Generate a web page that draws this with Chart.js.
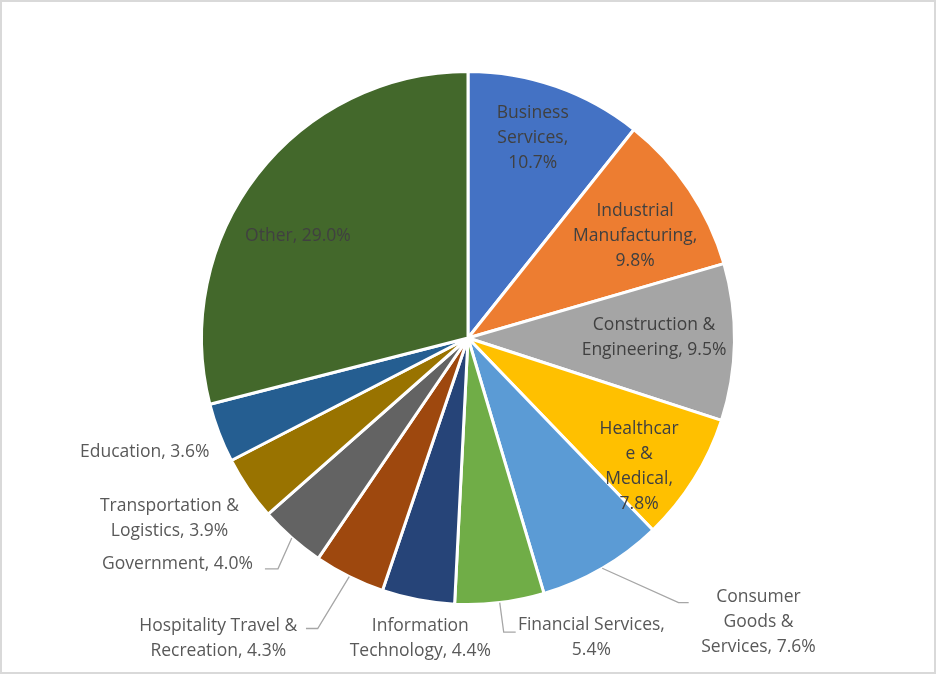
<!DOCTYPE html>
<html>
<head>
<meta charset="utf-8">
<script src="https://cdn.jsdelivr.net/npm/chart.js@4.4.1/dist/chart.umd.min.js"></script>
<style>
  html, body { margin: 0; padding: 0; background: #fff; }
  #wrap {
    width: 936px; height: 674px; box-sizing: border-box;
    border: 2px solid #d9d9d9; background: #fff;
  }
  #wrap canvas { display: block; }
</style>
</head>
<body>
<div id="wrap"><canvas id="pie" width="932" height="670"></canvas></div>
<script>
// chart data (percent of total)
const categories = [
  'Business Services', 'Industrial Manufacturing', 'Construction & Engineering',
  'Healthcare & Medical', 'Consumer Goods & Services', 'Financial Services',
  'Information Technology', 'Hospitality Travel & Recreation', 'Government',
  'Transportation & Logistics', 'Education', 'Other'
];
const shares = [10.7, 9.8, 9.5, 7.8, 7.6, 5.4, 4.4, 4.3, 4.0, 3.9, 3.6, 29.0];
const sliceColors = [
  '#4472C4', '#ED7D31', '#A5A5A5', '#FFC000', '#5B9BD5', '#70AD47',
  '#264478', '#9E480E', '#636363', '#997300', '#255E91', '#43682B'
];

// how each label wraps, {v} is the value
const labelLines = [
  ['Business', 'Services,', '{v}'],
  ['Industrial', 'Manufacturing,', '{v}'],
  ['Construction &', 'Engineering, {v}'],
  ['Healthcar', 'e &', 'Medical,', '{v}'],
  ['Consumer', 'Goods &', 'Services, {v}'],
  ['Financial Services,', '{v}'],
  ['Information', 'Technology, {v}'],
  ['Hospitality Travel &', 'Recreation, {v}'],
  ['Government, {v}'],
  ['Transportation &', 'Logistics, {v}'],
  ['Education, {v}'],
  ['Other, {v}']
];

// label placement in units of the pie radius, from the pie centre
const labelSpots = [
  { dx: 0.243, dy: -0.750, inside: true },
  { dx: 0.627, dy: -0.381, inside: true },
  { dx: 0.698, dy: 0.000, inside: true },
  { dx: 0.642, dy: 0.481, inside: true },
  { dx: 1.090, dy: 1.067, leader: [[0.790, 0.993], [0.828, 0.993]] },
  { dx: 0.463, dy: 1.123, leader: [[0.134, 1.104], [0.179, 1.104]] },
  { dx: -0.179, dy: 1.127 },
  { dx: -0.937, dy: 1.127, leader: [[-0.564, 1.090], [-0.608, 1.090]] },
  { dx: -1.090, dy: 0.847, leader: [[-0.713, 0.866], [-0.762, 0.866]] },
  { dx: -1.120, dy: 0.679 },
  { dx: -1.213, dy: 0.429 },
  { dx: -0.638, dy: -0.384, inside: true }
];

const lineGap = 25;

const sliceLabels = {
  id: 'sliceLabels',
  afterDatasetsDraw(chart) {
    const ctx = chart.ctx;
    const meta = chart.getDatasetMeta(0);
    ctx.save();
    ctx.font = '17.5px "Open Sans", sans-serif';
    ctx.textAlign = 'center';
    ctx.textBaseline = 'middle';
    meta.data.forEach((arc, i) => {
      const p = arc.getProps(['x', 'y', 'outerRadius', 'startAngle', 'endAngle'], true);
      const R = p.outerRadius;
      const spot = labelSpots[i];
      const cx = p.x + spot.dx * R;
      const cy = p.y + spot.dy * R;

      // leader line from the slice edge
      if (spot.leader) {
        const mid = (p.startAngle + p.endAngle) / 2;
        ctx.strokeStyle = '#a6a6a6';
        ctx.lineWidth = 1.3;
        ctx.beginPath();
        ctx.moveTo(p.x + Math.cos(mid) * R, p.y + Math.sin(mid) * R);
        spot.leader.forEach(pt => ctx.lineTo(p.x + pt[0] * R, p.y + pt[1] * R));
        ctx.stroke();
      }

      const value = shares[i].toFixed(1) + '%';
      const lines = labelLines[i].map(t => t.replace('{v}', value));
      ctx.fillStyle = spot.inside ? '#404040' : '#595959';
      const top = cy - (lines.length - 1) * lineGap / 2;
      lines.forEach((t, k) => ctx.fillText(t, cx, top + k * lineGap));
    });
    ctx.restore();
  }
};

new Chart(document.getElementById('pie'), {
  type: 'pie',
  data: {
    labels: categories,
    datasets: [{
      data: shares,
      backgroundColor: sliceColors,
      borderColor: '#ffffff',
      borderWidth: 3
    }]
  },
  options: {
    responsive: false,
    animation: false,
    layout: { padding: { top: 68, bottom: 66, left: 198, right: 198 } },
    plugins: {
      legend: { display: false },
      tooltip: { enabled: false }
    }
  },
  plugins: [sliceLabels]
});
</script>
</body>
</html>
